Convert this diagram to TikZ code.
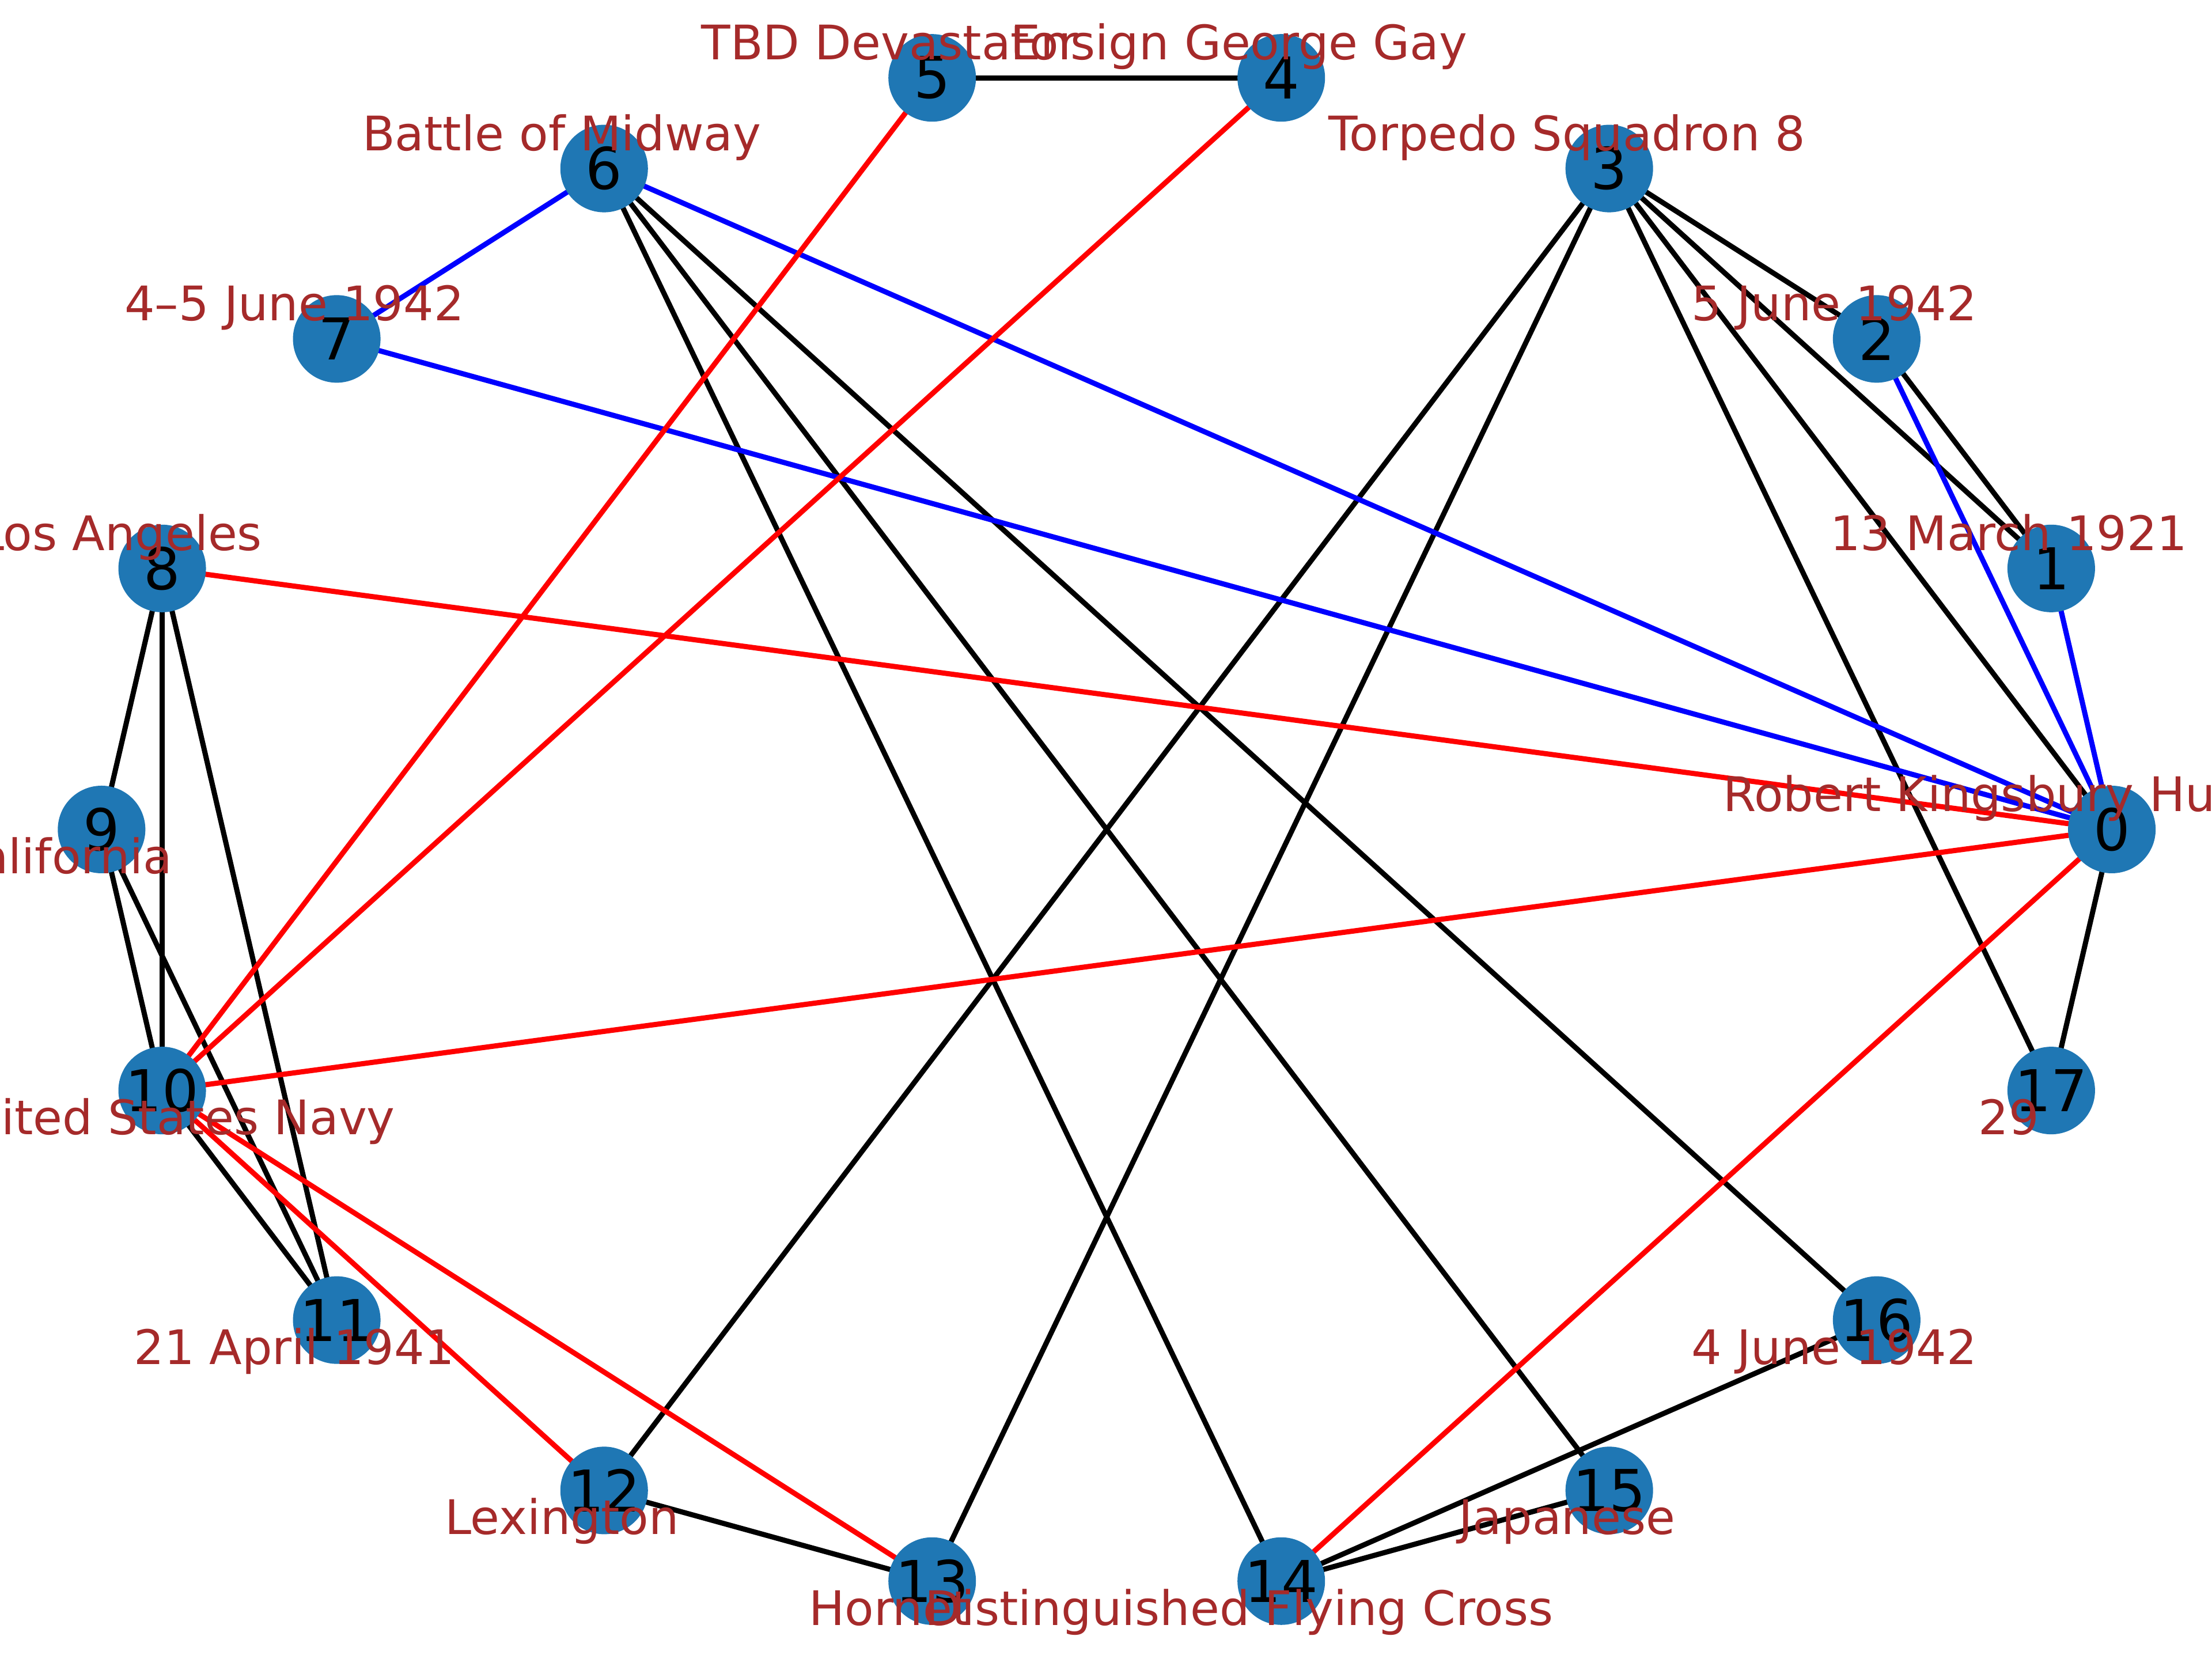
\documentclass[tikz,border=0pt]{standalone}
\usepackage{fontspec}
\newfontfamily\djv{DejaVu Sans}
\usetikzlibrary{backgrounds}
\definecolor{nodeblue}{HTML}{1F77B4}
\definecolor{labelbrown}{HTML}{A52A2A}
\tikzset{
  nd/.style={circle, fill=nodeblue, minimum size=22.8pt, inner sep=0pt, text=black,
    font=\djv\fontsize{15}{18}\selectfont},
  lbl/.style={anchor=base, text=labelbrown, inner sep=0pt,
    font=\djv\fontsize{12.4}{14}\selectfont},
  eblack/.style={draw=black, line width=1.35pt},
  eblue/.style={draw=blue, line width=1.35pt},
  ered/.style={draw=red, line width=1.35pt}
}
\begin{document}
\begin{tikzpicture}[x=0.3673pt, y=-0.3673pt]
\useasboundingbox (0,0) rectangle (1568,1176);
\clip (0,0) rectangle (1568,1176);
% nodes
\foreach \k in {0,...,17} {
  \node[nd] (n\k) at ({784.5+712.5*cos(20*\k)},{588-541*sin(20*\k)}) {\k};
}
% edges
\begin{scope}[on background layer]
\fill[white] (0,0) rectangle (1568,1176);
\foreach \a/\b in {3/2,3/1,3/0,3/17,3/12,3/13,2/1,0/17,5/4,6/14,6/15,6/16,8/9,8/10,8/11,9/10,9/11,10/11,12/13,14/16,14/15}
  \draw[eblack] (n\a.center) -- (n\b.center);
\foreach \a/\b in {6/7,7/0,6/0,2/0,1/0}
  \draw[eblue] (n\a.center) -- (n\b.center);
\foreach \a/\b in {5/10,4/10,8/0,0/10,0/14,10/12,10/13}
  \draw[ered] (n\a.center) -- (n\b.center);
\end{scope}
% labels
\foreach \k/\t in {0/Robert Kingsbury Huntington,1/13 March 1921,2/5 June 1942,3/Torpedo Squadron 8,4/Ensign George Gay,5/TBD Devastator,6/Battle of Midway,7/4–5 June 1942,8/Los Angeles} {
  \node[lbl] (l\k) at ({784.5+712.5*cos(20*\k)-30},{588-541*sin(20*\k)-12.8}) {\t};
}
\foreach \k/\t in {9/California,11/21 April 1941,12/Lexington,13/Hornet,14/Distinguished Flying Cross,15/Japanese,16/4 June 1942,17/29} {
  \node[lbl] (l\k) at ({784.5+712.5*cos(20*\k)-30},{588-541*sin(20*\k)+31.2}) {\t};
}
\node[lbl] (l10) at ({784.5+712.5*cos(200)+2.5},{588-541*sin(200)+31.2}) {United States Navy};
\end{tikzpicture}
\end{document}
